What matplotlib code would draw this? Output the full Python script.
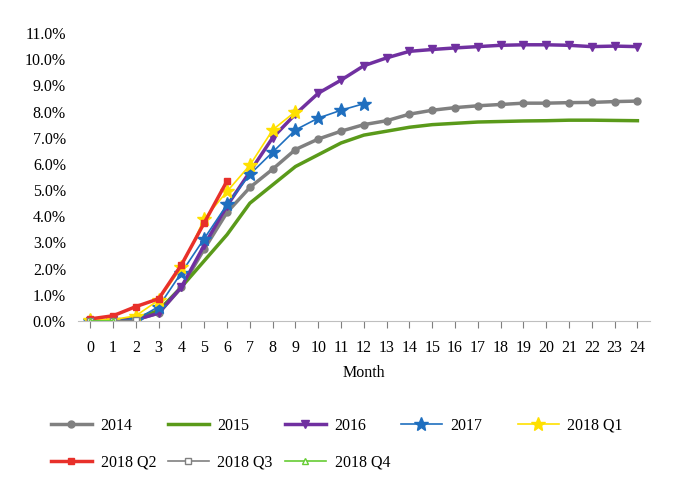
import numpy as np
import matplotlib.pyplot as plt
from matplotlib.ticker import FuncFormatter

# cumulative loss rate by month (%)
months = list(range(25))
y2014 = [0.0, 0.02, 0.05, 0.3, 1.28, 2.75, 4.15, 5.1, 5.8, 6.55, 6.95, 7.25, 7.5,
         7.65, 7.9, 8.05, 8.15, 8.22, 8.27, 8.32, 8.32, 8.34, 8.35, 8.38, 8.4]
y2015 = [0.0, 0.02, 0.1, 0.4, 1.3, 2.3, 3.3, 4.5, 5.2, 5.9, 6.35, 6.8, 7.1,
         7.25, 7.4, 7.5, 7.55, 7.6, 7.62, 7.64, 7.65, 7.67, 7.67, 7.66, 7.65]
y2016 = [0.0, 0.02, 0.05, 0.3, 1.3, 2.9, 4.4, 5.7, 7.0, 7.9, 8.7, 9.2, 9.75,
         10.05, 10.3, 10.37, 10.43, 10.48, 10.53, 10.55, 10.55, 10.53, 10.48, 10.5, 10.48]
y2017 = [0.0, 0.02, 0.05, 0.55, 1.85, 3.15, 4.45, 5.6, 6.45, 7.3, 7.75, 8.05, 8.3]
y2018q1 = [0.05, 0.05, 0.2, 0.8, 2.05, 3.9, 4.95, 5.95, 7.3, 8.0]
y2018q2 = [0.08, 0.2, 0.55, 0.85, 2.15, 3.75, 5.35]
y2018q3 = [0.0, 0.01, 0.02]
y2018q4 = [0.0, 0.01]

plt.rcParams['font.family'] = ['Liberation Serif', 'DejaVu Serif']
plt.rcParams['font.size'] = 11.5

fig = plt.figure(figsize=(6.82, 5), dpi=100)
ax = fig.add_axes([0.114, 0.358, 0.839, 0.576])

l14, = ax.plot(months[:len(y2014)], y2014, color='#808080', lw=2.5, marker='o', ms=5, label='2014')
l15, = ax.plot(months[:len(y2015)], y2015, color='#5a9a1a', lw=2.5, label='2015')
l16, = ax.plot(months[:len(y2016)], y2016, color='#7030a0', lw=2.5, marker='v', ms=6, label='2016')
l17, = ax.plot(months[:len(y2017)], y2017, color='#1f6fbf', lw=1.2, marker='*', ms=10, label='2017')
lq1, = ax.plot(months[:len(y2018q1)], y2018q1, color='#ffe000', lw=1.2, marker='*', ms=10, label='2018 Q1')
lq2, = ax.plot(months[:len(y2018q2)], y2018q2, color='#e8302a', lw=2.5, marker='s', ms=5, label='2018 Q2')
lq3, = ax.plot(months[:len(y2018q3)], y2018q3, color='#808080', lw=1.2, marker='s', ms=5,
               mfc='white', label='2018 Q3')
lq4, = ax.plot(months[:len(y2018q4)], y2018q4, color='#66cc33', lw=1.2, marker='^', ms=5,
               mfc='white', label='2018 Q4')

ax.set_xlim(-0.55, 24.55)
ax.set_ylim(0, 11)
ax.set_yticks(np.arange(0, 11.5, 1))
ax.yaxis.set_major_formatter(FuncFormatter(lambda v, p: f'{v:.1f}%'))
ax.set_xticks(months)
ax.tick_params(axis='y', length=0, pad=8.5)
ax.tick_params(axis='x', length=5, color='#7f7f7f', pad=8.5)
for s in ['top', 'right', 'left']:
    ax.spines[s].set_visible(False)
ax.spines['bottom'].set_color('#bfbfbf')
ax.set_xlabel('Month', labelpad=7)

# legend as a fixed grid: one small legend per column
columns = [[l14, lq2], [l15, lq3], [l16, lq4], [l17], [lq1]]
col_x = [0.0748, 0.2463, 0.4179, 0.588, 0.7595]
for hs, x in zip(columns, col_x):
    fig.legend(handles=hs, labels=[h.get_label() for h in hs], loc='upper left',
               bbox_to_anchor=(x, 0.165), frameon=False, borderpad=0, borderaxespad=0,
               handlelength=2.55, handletextpad=0.55, labelspacing=1.3)

plt.savefig('out.png', dpi=100)
